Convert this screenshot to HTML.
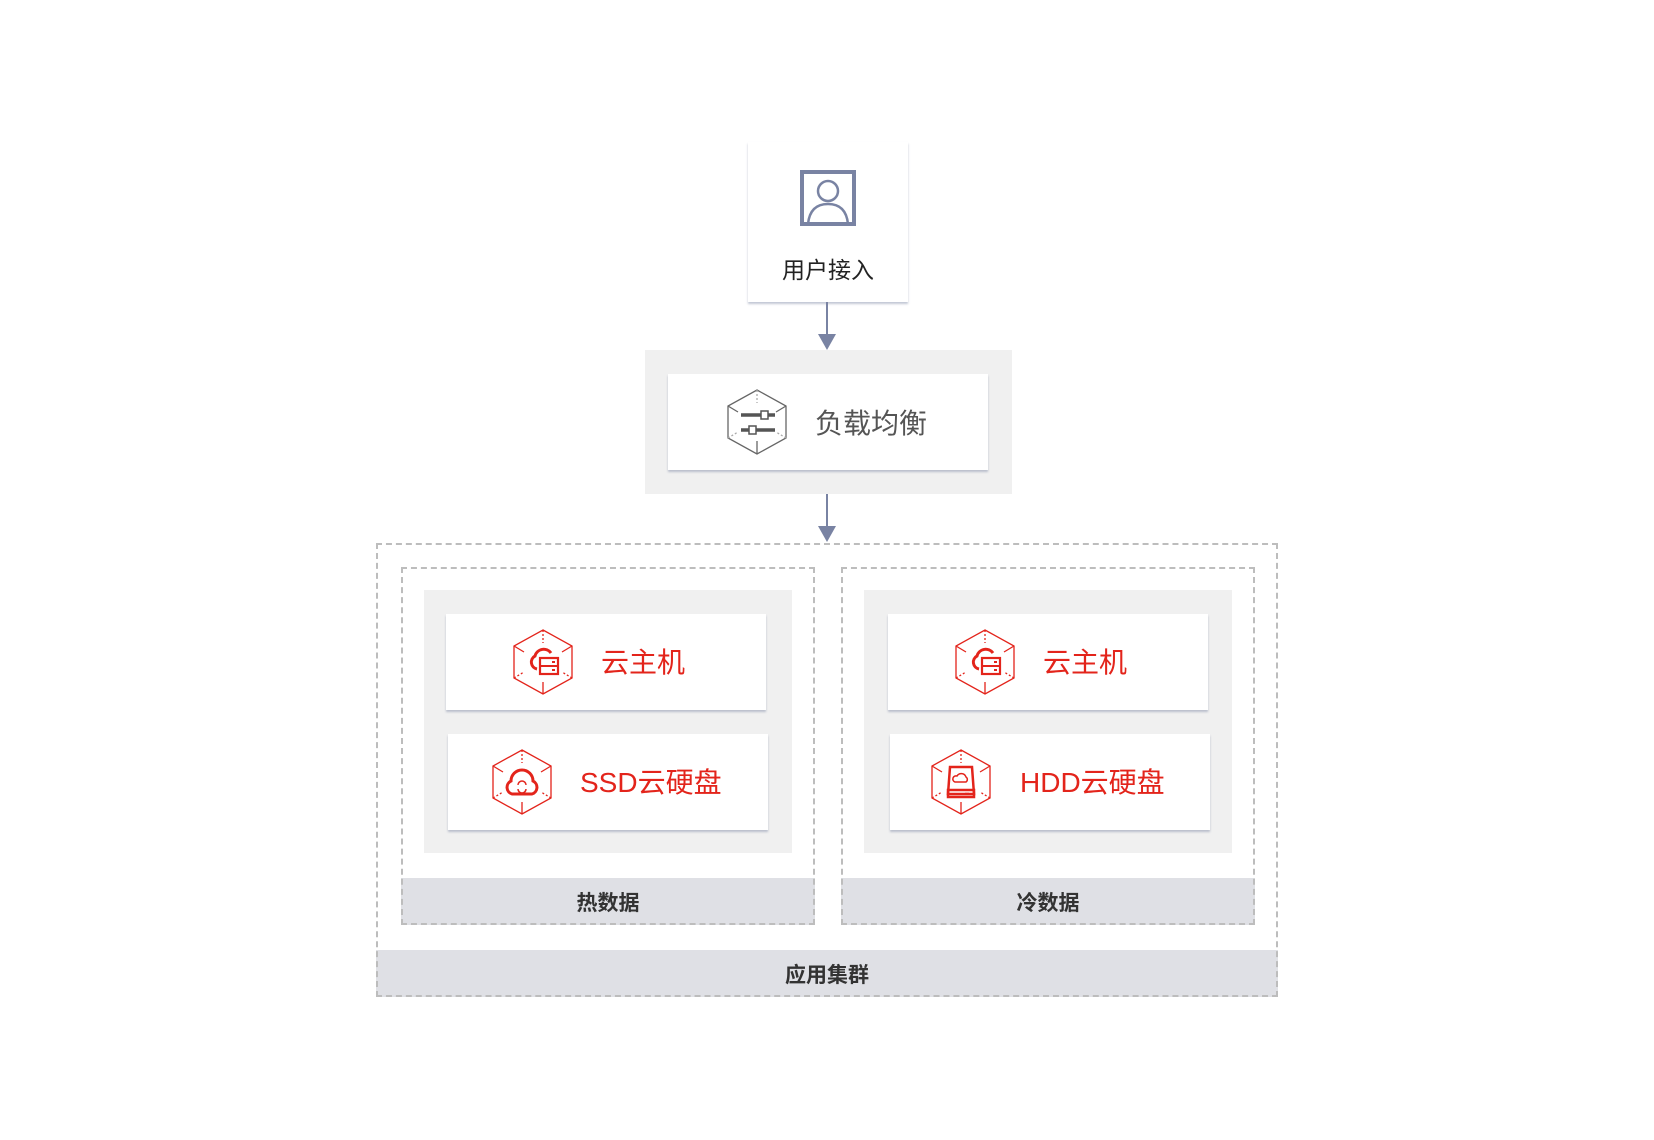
<!DOCTYPE html>
<html><head><meta charset="utf-8"><style>
body{margin:0;width:1654px;height:1140px;background:#fff;position:relative;overflow:hidden;font-family:"Liberation Sans","Noto Sans CJK SC",sans-serif}
.a{position:absolute;box-sizing:border-box}
.card{background:#fff;box-shadow:0 2px 2px rgba(120,130,160,.45)}
.gray{background:#f0f0f0}
.dash{border:2px dashed #bdbdbd}
.band{background:#dfe0e5;font-weight:bold;color:#333;font-size:21px;display:flex;align-items:center;justify-content:center}
.red{color:#e3241b;font-size:28px;position:absolute;line-height:1}
svg{position:absolute;overflow:visible}
</style></head><body>

<div class="a card" style="left:748px;top:142px;width:160px;height:160px"></div>
<svg style="left:800px;top:170px" width="56" height="56" viewBox="0 0 56 56">
<rect x="2" y="2" width="52" height="52" fill="none" stroke="#7983a3" stroke-width="4"/>
<rect x="0" y="52" width="56" height="4" fill="#7983a3"/>
<circle cx="28" cy="21" r="10" fill="none" stroke="#7983a3" stroke-width="2.5"/>
<path d="M8 54 Q10 34 28 34 Q46 34 48 54" fill="none" stroke="#7983a3" stroke-width="2.5"/>
</svg>
<div class="a" style="left:748px;top:251px;width:160px;text-align:center;font-size:23px;color:#222">用户接入</div>

<div class="a" style="left:826px;top:302px;width:2px;height:34px;background:#7983a3"></div>
<svg style="left:818px;top:334px" width="18" height="16"><polygon points="0,0 18,0 9,16" fill="#7983a3"/></svg>

<div class="a gray" style="left:645px;top:350px;width:367px;height:144px"></div>
<div class="a card" style="left:668px;top:374px;width:320px;height:96px"></div>
<svg style="left:727px;top:389px" width="60" height="66" viewBox="0 0 60 66">
<g fill="none" stroke="#666" stroke-width="1.3">
<polygon points="30,1 59,17 59,49 30,65 1,49 1,17"/>
<path d="M30 65V52M1 17l10 6M59 17l-10 6"/>
<path d="M30 1V14M1 49l10-6M59 49l-10-6" stroke-dasharray="2 2" stroke="#aaa"/>
</g>
<g stroke="#555" stroke-width="3.5"><path d="M14 26h34M14 41h34"/></g>
<rect x="34" y="22" width="7" height="8" fill="#fff" stroke="#555" stroke-width="1.5"/>
<rect x="22" y="37" width="7" height="8" fill="#fff" stroke="#555" stroke-width="1.5"/>
</svg>
<div class="a" style="left:815px;top:410px;font-size:28px;color:#555;line-height:1">负载均衡</div>

<div class="a" style="left:826px;top:494px;width:2px;height:34px;background:#7983a3"></div>
<svg style="left:818px;top:526px" width="18" height="16"><polygon points="0,0 18,0 9,16" fill="#7983a3"/></svg>

<div class="a band" style="left:376px;top:950px;width:902px;height:47px">应用集群</div>
<div class="a dash" style="left:376px;top:543px;width:902px;height:454px"></div>

<div class="a band" style="left:401px;top:878px;width:414px;height:47px">热数据</div>
<div class="a dash" style="left:401px;top:567px;width:414px;height:358px"></div>
<div class="a gray" style="left:424px;top:590px;width:368px;height:263px"></div>
<div class="a card" style="left:446px;top:614px;width:320px;height:96px"></div>
<div class="a card" style="left:448px;top:734px;width:320px;height:96px"></div>

<div class="a band" style="left:841px;top:878px;width:414px;height:47px">冷数据</div>
<div class="a dash" style="left:841px;top:567px;width:414px;height:358px"></div>
<div class="a gray" style="left:864px;top:590px;width:368px;height:263px"></div>
<div class="a card" style="left:888px;top:614px;width:320px;height:96px"></div>
<div class="a card" style="left:890px;top:734px;width:320px;height:96px"></div>

<svg width="0" height="0"><defs>
<g id="hex" fill="none" stroke="#e3241b" stroke-width="1.3">
<polygon points="30,1 59,17 59,49 30,65 1,49 1,17"/>
<path d="M30 65V53M1 17l10 6M59 17l-10 6"/>
<path d="M30 1V14M1 49l10-6M59 49l-10-6" stroke-dasharray="2 2"/>
</g>
<g id="vm">
<use href="#hex"/>
<path d="M24 40 A7 7 0 0 1 22 27 A9 9 0 0 1 38 24" fill="none" stroke="#e3241b" stroke-width="3"/>
<rect x="27" y="29" width="18" height="16" fill="#fff" stroke="#e3241b" stroke-width="2.2"/>
<path d="M27 37h18M39 33h3M39 41h3" stroke="#e3241b" stroke-width="2"/>
</g>
</defs></svg>
<svg style="left:513px;top:629px" width="60" height="66" viewBox="0 0 60 66"><use href="#vm"/></svg>
<svg style="left:955px;top:629px" width="60" height="66" viewBox="0 0 60 66"><use href="#vm"/></svg>
<svg style="left:492px;top:749px" width="60" height="66" viewBox="0 0 60 66"><use href="#hex"/>
<path d="M20 45 A7 7 0 0 1 19 32 A11 11 0 0 1 41 32 A7 7 0 0 1 40 45 Z" fill="none" stroke="#e3241b" stroke-width="3"/>
<path d="M26 36 a4 4 0 0 1 8 0 M34 40 a4 4 0 0 1 -8 0" fill="none" stroke="#e3241b" stroke-width="1.5"/>
</svg>
<svg style="left:931px;top:749px" width="60" height="66" viewBox="0 0 60 66"><use href="#hex"/>
<path d="M19 18h22l2 27H17z" fill="none" stroke="#e3241b" stroke-width="2.5"/>
<rect x="17" y="41" width="26" height="7" fill="none" stroke="#e3241b" stroke-width="2.5"/>
<path d="M24 33 a3 3 0 0 1 2-6 a5 5 0 0 1 9 1 a3 3 0 0 1 0 5z" fill="none" stroke="#e3241b" stroke-width="1.5"/>
<path d="M34 44.5h4" stroke="#e3241b" stroke-width="1.5"/>
</svg>

<div class="red" style="left:601px;top:649px">云主机</div>
<div class="red" style="left:1043px;top:649px">云主机</div>
<div class="red" style="left:580px;top:769px">SSD云硬盘</div>
<div class="red" style="left:1020px;top:769px">HDD云硬盘</div>
</body></html>
